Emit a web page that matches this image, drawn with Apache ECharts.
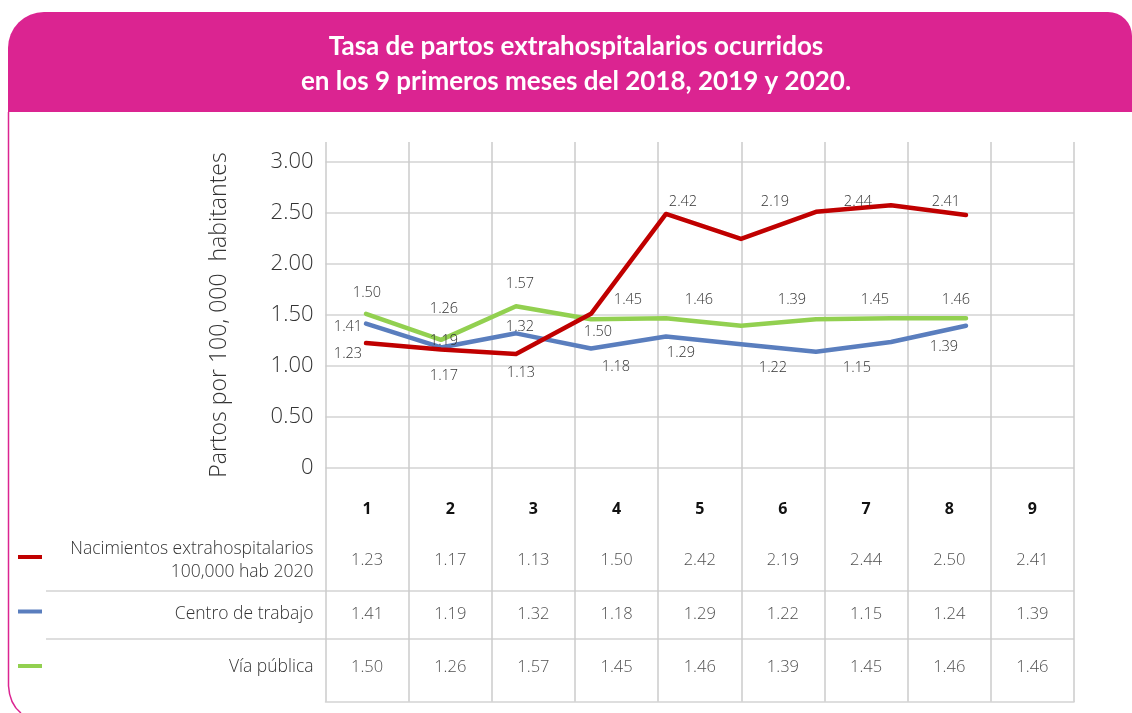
<!DOCTYPE html>
<html>
<head>
<meta charset="utf-8">
<script src="https://cdn.jsdelivr.net/npm/echarts@6/dist/echarts.min.js"></script>
<style>
html,body{margin:0;padding:0;background:#fff;}
#chart{width:1132px;height:713px;}
</style>
</head>
<body>
<div id="chart"></div>
<script>
// ---- data ----
const months = ['1','2','3','4','5','6','7','8','9'];
const seriesNames = ['Nacimientos extrahospitalarios\n100,000 hab 2020', 'Centro de trabajo', 'Vía pública'];
const nacimientos = [1.23, 1.17, 1.13, 1.50, 2.42, 2.19, 2.44, 2.50, 2.41];
const centroTrabajo = [1.41, 1.19, 1.32, 1.18, 1.29, 1.22, 1.15, 1.24, 1.39];
const viaPublica = [1.50, 1.26, 1.57, 1.45, 1.46, 1.39, 1.45, 1.46, 1.46];
const yTickValues = [0, 0.5, 1, 1.5, 2, 2.5, 3];
const yTickLabels = ['0', '0.50', '1.00', '1.50', '2.00', '2.50', '3.00'];
const titleLines = ['Tasa de partos extrahospitalarios ocurridos', 'en los 9 primeros meses del 2018, 2019 y 2020.'];
const yAxisName = 'Partos por 100, 000  habitantes';

// ---- styling (kept apart from data) ----
const colors = ['#C00000', '#5A7EBE', '#92D050'];
const labelNudges = [
  [[-18, 11], [3, 26], [5, 19], [7, 18], [17, -12], [34, -37], [42, -10], null, [-20, -13]],
  [[-18, 3], [3, -7], [4, -6], [25, 18], [15, 16], [32, 24], [41, 16], null, [-22, 21]],
  [[1, -21], [3, -31], [4, -22], [37, -19], [33, -18], [51, -26], [59, -19], null, [-10, -18]]
];
const gridColor = '#d3d3d3';
const FONT = 'Open Sans';

const allValues = [nacimientos, centroTrabajo, viaPublica];

function lineData(vals, s) {
  return vals.map((v, i) => {
    const n = labelNudges[s][i];
    return {
      value: v,
      label: n ? { show: true, position: 'inside', offset: n } : { show: false }
    };
  });
}

const chart = echarts.init(document.getElementById('chart'), null, { renderer: 'canvas' });

const lineSeries = allValues.map((vals, s) => ({
  name: seriesNames[s],
  type: 'line',
  xAxisIndex: 2,
  yAxisIndex: 2,
  data: lineData(vals, s),
  symbol: 'circle',
  symbolSize: 1,
  itemStyle: { color: colors[s] },
  lineStyle: { color: colors[s], width: 4.5, cap: 'round', join: 'round' },
  label: {
    color: '#333', fontFamily: FONT, fontSize: 14.5, fontWeight: 300,
    formatter: p => p.value.toFixed(2)
  },
  emphasis: { disabled: true },
  z: 5 - s
}));

const tableSeries = allValues.map((vals, s) => ({
  type: 'scatter',
  xAxisIndex: 5,
  yAxisIndex: 5,
  symbolSize: 1,
  itemStyle: { color: 'rgba(0,0,0,0)' },
  data: vals.map((v, i) => [i, s, v]),
  label: {
    show: true, position: 'inside',
    color: '#222', fontFamily: FONT, fontSize: 16.5, fontWeight: 300,
    formatter: p => p.data[2].toFixed(2)
  },
  emphasis: { disabled: true },
  silent: true
}));

const option = {
  animation: false,
  backgroundColor: '#fff',
  title: {
    text: titleLines.join('\n'),
    left: 571,
    textAlign: 'center',
    top: 24,
    textStyle: { color: '#fff', fontFamily: 'Lato', fontWeight: 'bold', fontSize: 26, lineHeight: 35 }
  },
  graphic: [
    {
      type: 'rect', z: -1,
      shape: { x: 8, y: 12, width: 1124, height: 100, r: [36, 24, 0, 0] },
      style: { fill: '#DB2491' }
    },
    {
      type: 'polyline', z: -1,
      shape: { points: [[8.5, 112], [8.5, 686]] },
      style: { stroke: '#DB2491', lineWidth: 1.5 }
    },
    {
      type: 'bezierCurve', z: -1,
      shape: { x1: 8.5, y1: 686, cpx1: 9.5, cpy1: 704, x2: 21, y2: 713 },
      style: { stroke: '#DB2491', lineWidth: 1.5, fill: null }
    }
  ],
  legend: {
    data: seriesNames,
    orient: 'vertical',
    left: 18,
    top: 555,
    padding: 0,
    itemWidth: 24,
    itemHeight: 4,
    itemGap: 50.5,
    icon: 'rect',
    formatter: () => '',
    textStyle: { fontSize: 1, lineHeight: 4 },
    selectedMode: false
  },
  grid: [
    { left: 325.5, right: 58, top: 142, bottom: 11 },          // 0 column lines
    { left: 325.5, right: 58, top: 162, bottom: 245 },         // 1 plot gridlines & y labels
    { left: 328.5, right: 128.5, top: 151, bottom: 236.4 },    // 2 line series
    { left: 325.5, right: 58, top: 524, bottom: 11 },          // 3 table header
    { left: 46, right: 58, top: 591, bottom: 74 },             // 4 row separators
    { left: 325.5, right: 58, top: 533.75, bottom: 18.75 }     // 5 table values
  ],
  xAxis: [
    { gridIndex: 0, type: 'category', data: months, boundaryGap: true,
      axisLine: { show: false }, axisTick: { show: false }, axisLabel: { show: false },
      splitLine: { show: true, lineStyle: { color: '#cbcbcb', width: 1.5 } } },
    { gridIndex: 1, type: 'category', data: months, show: false },
    { gridIndex: 2, type: 'category', data: months, boundaryGap: true, show: false },
    { gridIndex: 3, type: 'category', data: months, boundaryGap: true, position: 'top',
      axisLine: { show: true, lineStyle: { color: gridColor, width: 1.5 } },
      axisTick: { show: false },
      axisLabel: { show: true, margin: 7, color: '#111', fontFamily: FONT, fontWeight: 'bold', fontSize: 16 },
      splitLine: { show: false } },
    { gridIndex: 4, type: 'value', show: false },
    { gridIndex: 5, type: 'category', data: months, boundaryGap: true, show: false }
  ],
  yAxis: [
    { gridIndex: 0, type: 'value', show: false },
    { gridIndex: 1, type: 'value', min: 0, max: 3, interval: 0.5,
      axisLine: { show: false }, axisTick: { show: false },
      axisLabel: { margin: 12, color: '#333', fontFamily: FONT, fontWeight: 300, fontSize: 22,
        formatter: v => yTickLabels[yTickValues.indexOf(v)] },
      splitLine: { show: true, lineStyle: { color: gridColor, width: 1.5 } },
      name: yAxisName, nameLocation: 'middle', nameRotate: 90, nameGap: 95,
      nameTextStyle: { color: '#333', fontFamily: FONT, fontWeight: 300, fontSize: 23 } },
    { gridIndex: 2, type: 'value', min: 0, max: 3, show: false },
    { gridIndex: 3, type: 'value', show: false },
    { gridIndex: 4, type: 'category', data: [seriesNames[1]], boundaryGap: true,
      axisLine: { show: false }, axisTick: { show: false }, axisLabel: { show: false },
      splitLine: { show: true, lineStyle: { color: gridColor, width: 1.5 } } },
    { gridIndex: 5, type: 'category', data: seriesNames, inverse: true, boundaryGap: true,
      axisLine: { show: false }, axisTick: { show: false },
      axisLabel: { margin: 12, color: '#333', fontFamily: FONT, fontWeight: 300, fontSize: 17.5, lineHeight: 23, align: 'right' },
      splitLine: { show: false } }
  ],
  series: [...lineSeries, ...tableSeries]
};

chart.setOption(option);
</script>
</body>
</html>
